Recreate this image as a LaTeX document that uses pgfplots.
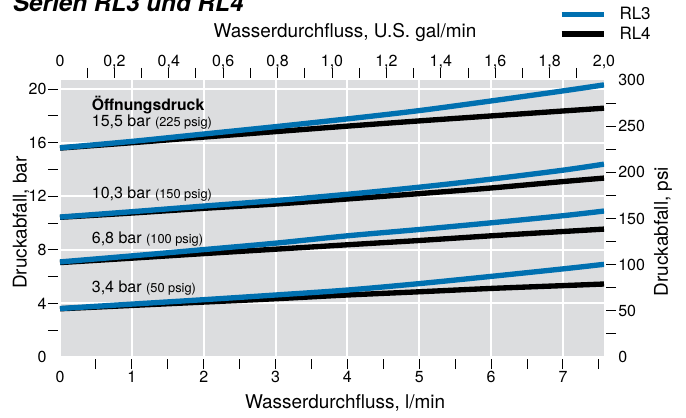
\documentclass[border=0pt]{standalone}
\usepackage{fontspec}
\setmainfont{TeX Gyre Heros}
\usepackage{pgfplots}
\pgfplotsset{compat=1.18}
\definecolor{rlblue}{RGB}{0,112,176}
\definecolor{bggray}{RGB}{220,221,223}
\tikzset{lbl/.style={font=\fontsize{14.2}{17}\selectfont}}
\pgfplotsset{
  common/.style={
    scale only axis, width=408pt, height=207.75pt,
    at={(0,0)}, anchor=south west,
    axis line style={draw=none},
    /pgf/number format/assume math mode=true,
    tick label style={font=\fontsize{12}{14}\selectfont},
    major tick length=0pt, minor tick length=7.5pt,
    tick align=outside,
  },
}
\begin{document}
\begin{tikzpicture}
% main axis: data, grid, bottom ticks
\begin{axis}[common,
  xmin=0, xmax=7.5708, ymin=0, ymax=20.684,
  xtick={0,1,2,3,4,5,6,7}, minor xtick={0.5,1,1.5,2,2.5,3,3.5,4,4.5,5,5.5,6,6.5,7,7.5},
  xtick pos=bottom,
  ytick={0,4,8,12,16,20}, yticklabels={}, ytick pos=left,
  grid=major, major grid style={white, line width=1.5pt},
  axis background/.style={fill=bggray},
  minor tick style={black, line width=0.75pt, yshift=-1.5pt},
  xticklabel style={anchor=base, yshift=-18.75pt, inner sep=0pt},
  xlabel={Wasserdurchfluss, l/min},
  every axis x label/.style={at={(axis description cs:0.524,-0.1853)}, anchor=base, lbl},
  legend image code/.code={\draw[#1] (0pt,0pt) -- (32pt,0pt);},
  reverse legend,
  legend cell align=left,
  legend style={draw=none, fill=none, at={(axis description cs:0.9165,1.274)}, anchor=north west,
    inner sep=0pt, font=\fontsize{12.75}{15}\selectfont,
    /tikz/every odd column/.append style={column sep=7.5pt}},
]
\addplot[black, line width=4pt, smooth] coordinates {(0,15.6)(1,16.0)(2,16.42)(3,16.83)(4,17.24)(5,17.63)(6,18.0)(7,18.37)(7.5708,18.58)};
\addlegendentry{RL4}
\addplot[black, line width=4pt, smooth, forget plot] coordinates {(0,10.43)(1,10.75)(2,11.1)(3,11.42)(4,11.8)(5,12.2)(6,12.62)(7,13.1)(7.5708,13.36)};
\addplot[black, line width=4pt, smooth, forget plot] coordinates {(0,7.05)(1,7.38)(2,7.72)(3,8.05)(4,8.38)(5,8.7)(6,9.05)(7,9.37)(7.5708,9.55)};
\addplot[black, line width=4pt, smooth, forget plot] coordinates {(0,3.6)(1,3.85)(2,4.1)(3,4.35)(4,4.63)(5,4.87)(6,5.12)(7,5.33)(7.5708,5.45)};
\addplot[rlblue, line width=4pt, smooth] coordinates {(0,15.62)(1,16.1)(2,16.65)(3,17.2)(4,17.78)(5,18.4)(6,19.12)(7,19.87)(7.5708,20.32)};
\addlegendentry{RL3}
\addplot[rlblue, line width=4pt, smooth, forget plot] coordinates {(0,10.45)(1,10.85)(2,11.27)(3,11.68)(4,12.15)(5,12.68)(6,13.28)(7,13.95)(7.5708,14.4)};
\addplot[rlblue, line width=4pt, smooth, forget plot] coordinates {(0,7.1)(1,7.55)(2,8.02)(3,8.5)(4,9.05)(5,9.52)(6,10.02)(7,10.55)(7.5708,10.9)};
\addplot[rlblue, line width=4pt, smooth, forget plot] coordinates {(0,3.62)(1,3.95)(2,4.28)(3,4.63)(4,5.0)(5,5.48)(6,6.02)(7,6.58)(7.5708,6.92)};
\node[anchor=base west, inner sep=0pt, font=\bfseries\fontsize{11.8}{14}\selectfont] at (axis cs:0.44,18.38) {Öffnungsdruck};
\node[anchor=base west, inner sep=0pt, font=\fontsize{12}{14}\selectfont] at (axis cs:0.44,17.19) {15,5 bar {\fontsize{9.6}{11}\selectfont(225 psig)}};
\node[anchor=base west, inner sep=0pt, font=\fontsize{12}{14}\selectfont] at (axis cs:0.44,11.84) {10,3 bar {\fontsize{9.6}{11}\selectfont(150 psig)}};
\node[anchor=base west, inner sep=0pt, font=\fontsize{12}{14}\selectfont] at (axis cs:0.44,8.49) {6,8 bar {\fontsize{9.6}{11}\selectfont(100 psig)}};
\node[anchor=base west, inner sep=0pt, font=\fontsize{12}{14}\selectfont] at (axis cs:0.44,4.83) {3,4 bar {\fontsize{9.6}{11}\selectfont(50 psig)}};
\end{axis}
% left axis: bar ticks
\begin{axis}[common,
  xmin=0, xmax=7.5708, ymin=0, ymax=20.684,
  xtick=\empty,
  ytick={0,4,8,12,16,20}, minor ytick={2,4,6,8,10,12,14,16,18,20}, ytick pos=left,
  minor tick style={black, line width=0.75pt, xshift=-1.5pt},
  yticklabel style={anchor=east, xshift=-10pt, inner sep=0pt},
  ylabel={Druckabfall, bar},
  every axis y label/.style={at={(axis description cs:-0.0613,0.4857)}, rotate=90, anchor=base, lbl},
]
\end{axis}
% top axis: gal/min
\begin{axis}[common,
  xmin=0, xmax=2, ymin=0, ymax=1,
  ytick=\empty,
  xtick={0,0.2,0.4,0.6,0.8,1.0,1.2,1.4,1.6,1.8,2.0},
  xticklabels={0,{0,2},{0,4},{0,6},{0,8},{1,0},{1,2},{1,4},{1,6},{1,8},{2,0}},
  minor xtick={0.1,0.2,0.3,0.4,0.5,0.6,0.7,0.8,0.9,1.0,1.1,1.2,1.3,1.4,1.5,1.6,1.7,1.8,1.9},
  xtick pos=top, xticklabel pos=top,
  minor tick style={black, line width=0.75pt, yshift=1.5pt},
  xticklabel style={anchor=base, yshift=10pt, inner sep=0pt},
  xlabel={Wasserdurchfluss, U.S. gal/min},
  every axis x label/.style={at={(axis description cs:0.524,1.1552)}, anchor=base, lbl},
]
\end{axis}
% right axis: psi
\begin{axis}[common,
  xmin=0, xmax=1, ymin=0, ymax=300,
  xtick=\empty,
  ytick={0,50,100,150,200,250,300},
  minor ytick={25,50,75,100,125,150,175,200,225,250,275},
  ytick pos=right, yticklabel pos=right,
  minor tick style={black, line width=0.75pt, xshift=1.5pt},
  yticklabel style={anchor=west, xshift=10.5pt, inner sep=0pt},
  ylabel={Druckabfall, psi},
  every axis y label/.style={at={(axis description cs:1.1176,0.4525)}, rotate=90, anchor=base, lbl},
]
\end{axis}
\node[anchor=base west, inner sep=0pt, font=\bfseries\itshape\fontsize{18.2}{22}\selectfont] at (-35.5pt,258.75pt) {Serien RL3 und RL4};
\pgfresetboundingbox
\useasboundingbox (-45pt,-45.75pt) rectangle (469.5pt,267.75pt);
\end{tikzpicture}
\end{document}
